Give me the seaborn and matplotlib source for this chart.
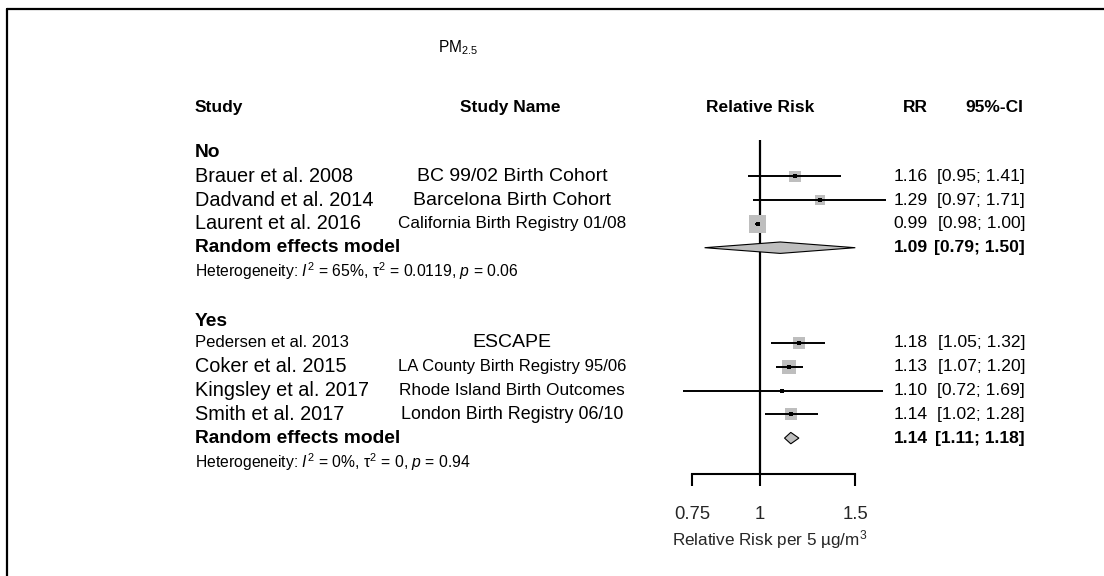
import numpy as np
import pandas as pd
import matplotlib
matplotlib.use("Agg")
import matplotlib.pyplot as plt
import matplotlib.transforms as mtransforms
from matplotlib.patches import Polygon
from matplotlib.lines import Line2D
from matplotlib.ticker import FixedLocator, FixedFormatter, NullLocator
import seaborn as sns

# ---------------- data ----------------
title = "PM$_{2.5}$"
group_labels = ["No", "Yes"]

studies_no = ["Brauer et al. 2008", "Dadvand et al. 2014", "Laurent et al. 2016"]
names_no = ["BC 99/02 Birth Cohort", "Barcelona Birth Cohort",
            "California Birth Registry 01/08"]
rr_no = [1.16, 1.29, 0.99]
lo_no = [0.95, 0.97, 0.98]
hi_no = [1.41, 1.71, 1.00]
weight_no = [25.0, 17.0, 58.0]
pooled_no = [1.09, 0.79, 1.50]          # estimate, lower, upper
het_no = ["65%", "0.0119", "0.06"]      # I^2, tau^2, p

studies_yes = ["Pedersen et al. 2013", "Coker et al. 2015",
               "Kingsley et al. 2017", "Smith et al. 2017"]
names_yes = ["ESCAPE", "LA County Birth Registry 95/06",
             "Rhode Island Birth Outcomes", "London Birth Registry 06/10"]
rr_yes = [1.18, 1.13, 1.10, 1.14]
lo_yes = [1.05, 1.07, 0.72, 1.02]
hi_yes = [1.32, 1.20, 1.69, 1.28]
weight_yes = [29.0, 40.0, 1.3, 29.7]
pooled_yes = [1.14, 1.11, 1.18]
het_yes = ["0%", "0", "0.94"]

x_ticks = [0.75, 1, 1.5]
x_tick_labels = ["0.75", "1", "1.5"]
x_label = "Relative Risk per 5 µg/m$^3$"

# ---------------- style ----------------
sns.set_theme(style="white")
plt.rcParams["font.family"] = ["Liberation Sans", "DejaVu Sans"]
plt.rcParams["mathtext.fontset"] = "custom"
plt.rcParams["mathtext.rm"] = "Liberation Sans"
plt.rcParams["mathtext.it"] = "Liberation Sans:italic"
plt.rcParams["mathtext.bf"] = "Liberation Sans:bold"

W, H = 1104, 576
fig = plt.figure(figsize=(W / 100, H / 100), dpi=100)
fig.patch.set_facecolor("white")

def fx(px):
    return px / W

# forest panel: log scale, 235 px per natural-log unit, RR=1 at x=760 px
ax_l, ax_r, ax_t, ax_b = 640, 900, 140, 474
ax = fig.add_axes([fx(ax_l), 1 - ax_b / H, (ax_r - ax_l) / W, (ax_b - ax_t) / H])
ax.set_xscale("log")
ax.set_xlim(np.exp((ax_l - 760) / 235), np.exp((ax_r - 760) / 235))
row0, step = 152.5, 23.8
ax.set_ylim((ax_b - row0) / step, (ax_t - row0) / step)
ax.set_facecolor("none")

# row layout: group label, studies, pooled row, heterogeneity row
tables = []
for g, (st, nm, rr, lo, hi, wt, pooled, het) in enumerate([
        (studies_no, names_no, rr_no, lo_no, hi_no, weight_no, pooled_no, het_no),
        (studies_yes, names_yes, rr_yes, lo_yes, hi_yes, weight_yes, pooled_yes, het_yes)]):
    start = 0.0 if g == 0 else 7.0
    df = pd.DataFrame({"study": st, "name": nm, "rr": rr, "lo": lo, "hi": hi,
                       "weight": wt})
    df["row"] = start + 1 + np.arange(len(df))
    tables.append((start, df, pooled, het, start + 1 + len(df)))

all_df = pd.concat([t[1] for t in tables], ignore_index=True)
wmax = max(all_df["weight"])

# confidence intervals
ax.hlines(all_df["row"], all_df["lo"], all_df["hi"], color="black", lw=1.4, zorder=3)
# weighted squares (area proportional to weight)
sns.scatterplot(data=all_df, x="rr", y="row", size="weight", sizes=(0, 155),
                size_norm=(0, wmax), marker="s", color="#BEBEBE", linewidth=0,
                legend=False, ax=ax, zorder=2)
# point estimates
sns.scatterplot(data=all_df, x="rr", y="row", marker="s", s=6, color="black",
                linewidth=0, legend=False, ax=ax, zorder=4)

# pooled diamonds
for start, df, pooled, het, re_row in tables:
    est, plo, phi = pooled
    h = 0.24
    ax.add_patch(Polygon([(plo, re_row), (est, re_row - h), (phi, re_row),
                          (est, re_row + h)], closed=True, facecolor="#BEBEBE",
                         edgecolor="black", lw=0.8, zorder=3))

# reference line and axis
ax.axvline(1, color="black", lw=1.6, zorder=1)
for s in ["top", "right", "left"]:
    ax.spines[s].set_visible(False)
ax.spines["bottom"].set_bounds(x_ticks[0], x_ticks[-1])
ax.spines["bottom"].set_linewidth(1.5)
ax.spines["bottom"].set_color("black")
ax.xaxis.set_major_locator(FixedLocator(x_ticks))
ax.xaxis.set_major_formatter(FixedFormatter(x_tick_labels))
ax.xaxis.set_minor_locator(NullLocator())
ax.yaxis.set_major_locator(NullLocator())
ax.tick_params(axis="x", direction="out", length=8.6, width=1.5, color="black",
               labelsize=13.3, pad=14.3, bottom=True)
ax.set_xlabel(x_label, fontsize=12.3, labelpad=4)
ax.set_ylabel("")

# table text
tr = mtransforms.blended_transform_factory(fig.transFigure, ax.transData)

def put(px, row, s, ha="left", size=14, weight="normal", **kw):
    ax.text(fx(px), row, s, transform=tr, ha=ha, va="center", fontsize=size,
            fontweight=weight, color="black", clip_on=False, **kw)

put(438, -4.4, title, size=11.2)

hdr = -1.91
put(195, hdr, "Study", size=12.5, weight="bold")
put(510, hdr, "Study Name", ha="center", size=12.5, weight="bold")
put(760, hdr, "Relative Risk", ha="center", size=12.5, weight="bold")
put(928, hdr, "RR", ha="right", size=12.5, weight="bold")
put(1023, hdr, "95%-CI", ha="right", size=12.5, weight="bold")

study_size = {"Pedersen et al. 2013": 12.0}
name_size = {"California Birth Registry 01/08": 12.3,
             "LA County Birth Registry 95/06": 12.0,
             "Rhode Island Birth Outcomes": 12.4,
             "London Birth Registry 06/10": 12.9}

for (start, df, pooled, het, re_row), glab in zip(tables, group_labels):
    put(195, start + (0.1 if start > 0 else 0), glab, size=13.75, weight="bold")
    for _, r in df.iterrows():
        put(195, r["row"], r["study"], size=study_size.get(r["study"], 14.3))
        put(512, r["row"], r["name"], ha="center", size=name_size.get(r["name"], 14))
        put(928, r["row"], f"{r['rr']:.2f}", ha="right", size=12.6)
        put(1025, r["row"], f"[{r['lo']:.2f}; {r['hi']:.2f}]", ha="right", size=12.6)
    put(195, re_row, "Random effects model", size=13.75, weight="bold")
    put(928, re_row, f"{pooled[0]:.2f}", ha="right", size=12.6, weight="bold")
    put(1025, re_row, f"[{pooled[1]:.2f}; {pooled[2]:.2f}]", ha="right", size=12.6,
        weight="bold")
    put(195, re_row + 1,
        f"Heterogeneity: $I^2$ = {het[0]}, τ$^2$ = {het[1]}, $p$ = {het[2]}",
        size=11.3)

# frame lines along the top and left edges
fig.add_artist(Line2D([fx(7), 1], [1 - 9 / H, 1 - 9 / H], color="black", lw=1.6,
                      transform=fig.transFigure))
fig.add_artist(Line2D([fx(7), fx(7)], [0, 1 - 9 / H], color="black", lw=1.6,
                      transform=fig.transFigure))

fig.savefig("out.png", dpi=100, facecolor="white")
